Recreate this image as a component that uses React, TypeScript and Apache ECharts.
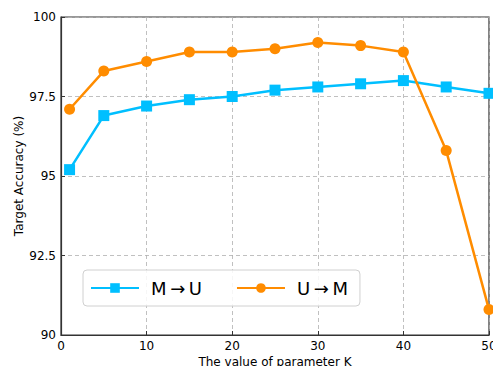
import React, { useEffect, useRef } from "react";
import * as echarts from "echarts";

const kValues = [1, 5, 10, 15, 20, 25, 30, 35, 40, 45, 50];
const mToU = [95.2, 96.9, 97.2, 97.4, 97.5, 97.7, 97.8, 97.9, 98.0, 97.8, 97.6];
const uToM = [97.1, 98.3, 98.6, 98.9, 98.9, 99.0, 99.2, 99.1, 98.9, 95.8, 90.8];
const seriesNames = ["M\u2009\u2192\u2009U", "U\u2009\u2192\u2009M"];

const FONT = "DejaVu Sans";

export default function App() {
  const ref = useRef<HTMLDivElement>(null);
  useEffect(() => {
    if (!ref.current) return;
    const chart = echarts.init(ref.current, null, { renderer: "svg" });
    const axisLine = { show: true, lineStyle: { color: "#333", width: 1.2 } };
    const splitLine = { show: true, lineStyle: { color: "#b0b0b0", type: [4, 3], width: 0.8 } };
    chart.setOption({
      animation: false,
      backgroundColor: "#fff",
      grid: { left: 61, right: 4, top: 17, bottom: 31, containLabel: false, outerBoundsMode: "none" },
      legend: {
        left: 83,
        top: 270,
        orient: "horizontal",
        itemWidth: 48,
        itemHeight: 12,
        itemGap: 34,
        padding: [9, 12, 9, 7],
        backgroundColor: "rgba(255,255,255,0.85)",
        borderColor: "#d0d0d0",
        borderWidth: 1,
        borderRadius: 4,
        textStyle: { fontFamily: FONT, fontSize: 18, color: "#000", padding: [0, 0, 0, 7] },
        data: seriesNames,
      },
      xAxis: {
        type: "value",
        min: 0,
        max: 50,
        interval: 10,
        name: "The value of parameter K",
        nameLocation: "middle",
        nameGap: 21,
        nameMoveOverlap: false,
        nameTextStyle: { fontFamily: FONT, fontSize: 12, color: "#000" },
        axisLine,
        axisTick: { show: true, inside: true, length: 4, lineStyle: { color: "#333" } },
        axisLabel: { fontFamily: FONT, fontSize: 12, color: "#000", margin: 5 },
        splitLine,
      },
      yAxis: {
        type: "value",
        min: 90,
        max: 100,
        interval: 2.5,
        name: "Target Accuracy (%)",
        nameLocation: "middle",
        nameGap: 36,
        nameMoveOverlap: false,
        nameTextStyle: { fontFamily: FONT, fontSize: 12, color: "#000" },
        axisLine,
        axisTick: { show: true, inside: true, length: 4, lineStyle: { color: "#333" } },
        axisLabel: { fontFamily: FONT, fontSize: 12, color: "#000", margin: 5 },
        splitLine,
      },
      series: [
        {
          name: seriesNames[0],
          type: "line",
          data: kValues.map((k, i) => [k, mToU[i]]),
          symbol: "rect",
          symbolSize: 11,
          lineStyle: { color: "#00BFFF", width: 2.5 },
          itemStyle: { color: "#00BFFF" },
          clip: false,
          z: 2,
        },
        {
          name: seriesNames[1],
          type: "line",
          data: kValues.map((k, i) => [k, uToM[i]]),
          symbol: "circle",
          symbolSize: 11,
          lineStyle: { color: "#FF8C00", width: 2.5 },
          itemStyle: { color: "#FF8C00" },
          clip: false,
          z: 3,
        },
      ],
      graphic: [
        {
          type: "rect",
          shape: { x: 61, y: 17, width: 428, height: 318 },
          style: { fill: "none", stroke: "#333", lineWidth: 1.2 },
          silent: true,
          z: 0,
        },
      ],
    });
    return () => chart.dispose();
  }, []);
  return <div ref={ref} style={{ width: 493, height: 366, position: "absolute", left: 0, top: 0 }} />;
}
